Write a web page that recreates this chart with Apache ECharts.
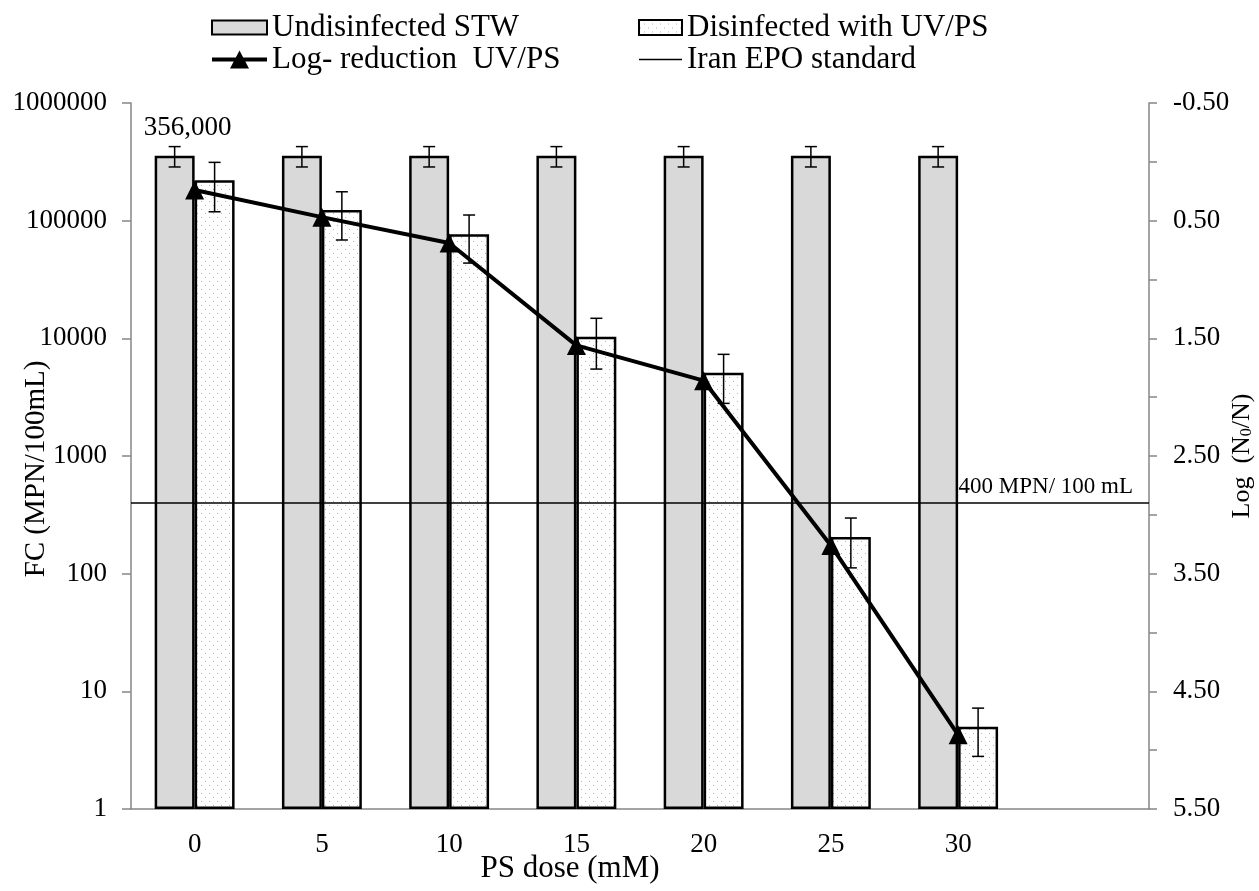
<!DOCTYPE html>
<html>
<head>
<meta charset="utf-8">
<script src="https://cdn.jsdelivr.net/npm/echarts@6/dist/echarts.min.js"></script>
<style>html,body{margin:0;padding:0;background:#fff}#c{width:1259px;height:891px}</style>
</head>
<body>
<div id="c"></div>
<script>
// ---- data ----
const categories = ['0', '5', '10', '15', '20', '25', '30', ''];
const undisinfected = [356000, 356000, 356000, 356000, 356000, 356000, 356000];
const undisErrLow = [286000, 286000, 286000, 286000, 286000, 286000, 286000];
const undisErrHigh = [426000, 426000, 426000, 426000, 426000, 426000, 426000];
const disinfected = [220000, 123000, 76500, 10300, 5100, 205, 5];
const disErrLow = [119000, 68500, 43600, 5480, 2800, 112, 2.8];
const disErrHigh = [313000, 176000, 111700, 14800, 7310, 297, 7.2];
const logReduction = [0.24, 0.47, 0.69, 1.56, 1.86, 3.26, 4.87];
const standardValue = 400;
const rightLabels = [-0.5, 0.5, 1.5, 2.5, 3.5, 4.5, 5.5];
const rightTicks = [-0.5, 0, 0.5, 1, 1.5, 2, 2.5, 3, 3.5, 4, 4.5, 5, 5.5];

const FONT = '"Liberation Serif", "Times New Roman", serif';
const BAR_FRAC = 0.314;

// dotted pattern
const pc = document.createElement('canvas');
pc.width = 8; pc.height = 8;
const pctx = pc.getContext('2d');
pctx.fillStyle = '#ffffff'; pctx.fillRect(0, 0, 8, 8);
pctx.fillStyle = '#b4b4b4';
pctx.fillRect(1, 1, 1, 1); pctx.fillRect(5, 5, 1, 1);

function errSeries(name, lo, hi, sign) {
  return {
    type: 'custom', name: name, z: 5, silent: true,
    data: lo.map((v, i) => [i, v, hi[i]]),
    encode: { x: 0, y: [1, 2] },
    renderItem: function (params, api) {
      const i = api.value(0);
      const bw = api.size([1, 0])[0] * BAR_FRAC;
      const pLo = api.coord([i, api.value(1)]);
      const pHi = api.coord([i, api.value(2)]);
      const x = pLo[0] + sign * bw / 2;
      const cap = 6;
      const st = { stroke: '#000', lineWidth: 1.5 };
      return {
        type: 'group',
        children: [
          { type: 'line', shape: { x1: x, y1: pLo[1], x2: x, y2: pHi[1] }, style: st },
          { type: 'line', shape: { x1: x - cap, y1: pLo[1], x2: x + cap, y2: pLo[1] }, style: st },
          { type: 'line', shape: { x1: x - cap, y1: pHi[1], x2: x + cap, y2: pHi[1] }, style: st }
        ]
      };
    }
  };
}

const legendText = { fontFamily: FONT, fontSize: 31, color: '#000', lineHeight: 31 };

const chart = echarts.init(document.getElementById('c'));
chart.setOption({
  animation: false,
  backgroundColor: '#fff',
  textStyle: { fontFamily: FONT, color: '#000' },
  legend: [
    {
      left: 206, top: 7, orient: 'vertical', itemGap: 1,
      itemWidth: 55, itemHeight: 18, symbolKeepAspect: true,
      data: [
        { name: 'Undisinfected STW', icon: 'path://M0,0 H55 V14 H0 Z' },
        { name: 'Log- reduction  UV/PS', icon: 'path://M0,7 H55 V11 H0 Z M18,18 L27.5,0 L37,18 Z' }
      ],
      textStyle: legendText
    },
    {
      left: 633, top: 7, orient: 'vertical', itemGap: 1,
      itemWidth: 43, itemHeight: 18, symbolKeepAspect: true,
      data: [
        { name: 'Disinfected with UV/PS', icon: 'path://M0,0 H43 V15 H0 Z' },
        { name: 'Iran EPO standard', icon: 'path://M0,0 H43 V1.5 H0 Z' }
      ],
      textStyle: legendText
    }
  ],
  grid: { left: 131, right: 110, top: 103, bottom: 82, containLabel: false, outerBoundsMode: 'none' },
  xAxis: {
    type: 'category', data: categories, boundaryGap: true,
    axisLine: { show: true, onZero: false, lineStyle: { color: '#868686', width: 1.5 } },
    axisTick: { show: false },
    axisLabel: { fontFamily: FONT, fontSize: 27, color: '#000', margin: 22 },
    name: 'PS dose (mM)', nameLocation: 'middle', nameGap: 44, nameMoveOverlap: false,
    nameTextStyle: { fontFamily: FONT, fontSize: 31, color: '#000', padding: [0, 140, 0, 0] }
  },
  yAxis: [
    {
      type: 'log', logBase: 10, min: 1, max: 1000000, splitNumber: 6,
      axisLine: { show: true, onZero: false, lineStyle: { color: '#868686', width: 1.5 } },
      axisTick: { show: true, length: 9, lineStyle: { color: '#868686', width: 1.5 } },
      splitLine: { show: false },
      axisLabel: {
        fontFamily: FONT, fontSize: 27, color: '#000', margin: 24,
        formatter: v => String(Math.round(v))
      },
      name: 'FC (MPN/100mL)', nameLocation: 'middle', nameGap: 80, nameRotate: 90,
      nameMoveOverlap: false,
      nameTextStyle: { fontFamily: FONT, fontSize: 29, color: '#000', padding: [0, 26, 0, 0] }
    },
    {
      type: 'value', position: 'right', inverse: true, min: -0.5, max: 5.5,
      axisLine: { show: true, onZero: false, lineStyle: { color: '#868686', width: 1.5 } },
      axisTick: { show: true, length: 8, customValues: rightTicks, lineStyle: { color: '#868686', width: 1.5 } },
      splitLine: { show: false },
      axisLabel: {
        fontFamily: FONT, fontSize: 27, color: '#000', margin: 24,
        customValues: rightLabels,
        formatter: v => v.toFixed(2)
      },
      name: 'Log  (N{sub|0}/N)', nameLocation: 'middle', nameGap: 80, nameRotate: 90,
      nameMoveOverlap: false,
      nameTextStyle: {
        fontFamily: FONT, fontSize: 26, color: '#000',
        rich: { sub: { fontFamily: FONT, fontSize: 16, color: '#000', verticalAlign: 'bottom', padding: [10, 0, 0, 0] } }
      }
    }
  ],
  series: [
    {
      name: 'Undisinfected STW', type: 'bar', yAxisIndex: 0,
      barWidth: (BAR_FRAC * 100) + '%', barGap: '0%', z: 2,
      itemStyle: { color: '#d9d9d9', borderColor: '#000', borderWidth: 2.5 },
      data: undisinfected.map((v, i) => i === 0 ? {
        value: v,
        label: {
          show: true, position: 'top', distance: 14, offset: [13, 0],
          fontFamily: FONT, fontSize: 27, color: '#000',
          formatter: p => p.value.toLocaleString('en-US')
        }
      } : v)
    },
    {
      name: 'Disinfected with UV/PS', type: 'bar', yAxisIndex: 0,
      barWidth: (BAR_FRAC * 100) + '%', barGap: '0%', z: 2,
      itemStyle: { color: { image: pc, repeat: 'repeat' }, borderColor: '#000', borderWidth: 2.5 },
      data: disinfected
    },
    errSeries('errU', undisErrLow, undisErrHigh, -1),
    errSeries('errD', disErrLow, disErrHigh, 1),
    {
      name: 'Iran EPO standard', type: 'line', yAxisIndex: 0, data: [],
      symbol: 'none', z: 4,
      lineStyle: { color: '#000', width: 1.5 }, itemStyle: { color: '#000' },
      markLine: {
        silent: true, symbol: ['none', 'none'],
        lineStyle: { color: '#000', width: 1.5, type: 'solid' },
        label: {
          show: true, position: 'insideEndTop', distance: [16, 4],
          formatter: '400 MPN/ 100 mL', fontFamily: FONT, fontSize: 23, color: '#000'
        },
        data: [{ yAxis: standardValue }]
      }
    },
    {
      name: 'Log- reduction  UV/PS', type: 'line', yAxisIndex: 1, z: 10,
      data: logReduction,
      symbol: 'triangle', symbolSize: 19,
      lineStyle: { color: '#000', width: 4 },
      itemStyle: { color: '#000' }
    }
  ]
});
</script>
</body>
</html>
